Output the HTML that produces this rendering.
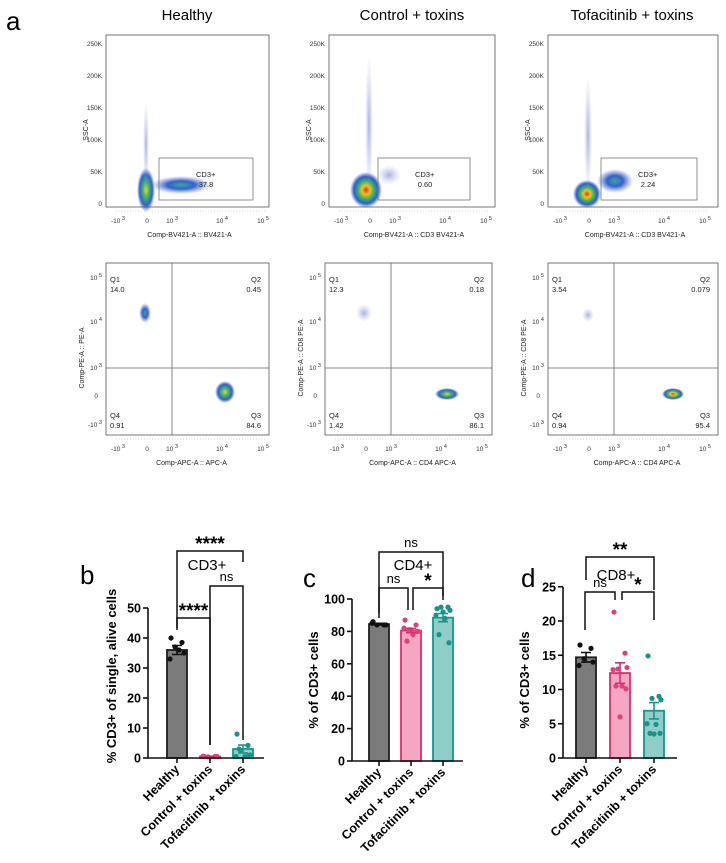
<!DOCTYPE html>
<html><head><meta charset="utf-8"><style>
body{margin:0;background:#fff;}
svg{display:block;font-family:"Liberation Sans",sans-serif;}
</style></head><body>
<svg id="fig" width="726" height="863" viewBox="0 0 726 863" xmlns="http://www.w3.org/2000/svg">
<defs>
<radialGradient id="hot" cx="50%" cy="50%" r="50%">
<stop offset="0" stop-color="#e8321e"/><stop offset="0.25" stop-color="#f2c21a"/><stop offset="0.5" stop-color="#37b36a"/><stop offset="0.75" stop-color="#2a5fd0"/><stop offset="1" stop-color="#3a55c8" stop-opacity="0"/>
</radialGradient>
<radialGradient id="warm" cx="50%" cy="50%" r="50%">
<stop offset="0" stop-color="#e7d23a"/><stop offset="0.35" stop-color="#3fb46e"/><stop offset="0.7" stop-color="#2f62cf"/><stop offset="1" stop-color="#3a55c8" stop-opacity="0"/>
</radialGradient>
<radialGradient id="cool" cx="50%" cy="50%" r="50%">
<stop offset="0" stop-color="#3aa6a0"/><stop offset="0.45" stop-color="#3461cc"/><stop offset="1" stop-color="#5f78d8" stop-opacity="0"/>
</radialGradient>
<radialGradient id="faint" cx="50%" cy="50%" r="50%">
<stop offset="0" stop-color="#6c7fd6" stop-opacity="0.6"/><stop offset="1" stop-color="#9aa7e0" stop-opacity="0"/>
</radialGradient>
</defs>
<text x="6" y="30" font-size="26">a</text>
<text x="187" y="20" font-size="15" text-anchor="middle">Healthy</text>
<text x="412" y="20" font-size="15" text-anchor="middle">Control + toxins</text>
<text x="632" y="20" font-size="15" text-anchor="middle">Tofacitinib + toxins</text>
<text x="80" y="584" font-size="26">b</text>
<text x="303" y="587" font-size="26">c</text>
<text x="521" y="587" font-size="26">d</text>
<g id="flows"></g>
<g id="bars"></g>
</svg>
<script>
// ---------- bar chart data ----------
const groups = ["Healthy", "Control + toxins", "Tofacitinib + toxins"];
const cd3Means = [36, 0.5, 3];
const cd3Sem = [1.5, 0.1, 1.3];
const cd3Healthy = [40, 38.5, 37, 35, 33, 36];
const cd3Control = [0.5, 0.5, 0.4, 0.5, 0.6];
const cd3Tofa = [8, 4.2, 2.5, 1, 0.5, 0.5, 3, 0.8];
const cd3Ticks = [0, 10, 20, 30, 40, 50];
const cd4Means = [84.5, 80.5, 88.5];
const cd4Sem = [0.5, 1.3, 2.5];
const cd4Healthy = [86, 84, 84, 84, 85];
const cd4Control = [87, 84, 81, 80, 82, 78, 74, 80, 81];
const cd4Tofa = [94, 95, 95, 93, 90, 88, 78, 73, 92];
const cd4Ticks = [0, 20, 40, 60, 80, 100];
const cd8Means = [14.7, 12.4, 6.9];
const cd8Sem = [0.7, 1.5, 1.2];
const cd8Healthy = [16.5, 16, 14.5, 14, 13.5];
const cd8Control = [21.3, 15.3, 13, 13.2, 12.9, 10.5, 10.5, 10.1, 6];
const cd8Tofa = [14.9, 9, 8.7, 8.5, 5, 4.9, 3.6, 3.6, 3.5];
const cd8Ticks = [0, 5, 10, 15, 20, 25];

const NS = "http://www.w3.org/2000/svg";
function mk(tag, attrs, parent, txt) {
  const e = document.createElementNS(NS, tag);
  for (const k in attrs) e.setAttribute(k, attrs[k]);
  if (txt !== undefined) e.textContent = txt;
  parent.appendChild(e);
  return e;
}
const fills = ["#7b7b7b", "#f5a6c1", "#8fcdc8"];
const strokes = ["#1e1e1e", "#d8306f", "#16968b"];
const dotCols = ["#111", "#e2407c", "#169488"];
const jit = [-6, 5, -2, 7, -7, 2, -4, 6, 0, -5];

function barChart(id, cfg, means, sems, pts, ticks) {
  const g = mk("g", {}, document.getElementById("bars"));
  
  
  const yS = v => cfg.y0 - v * cfg.ppu;
  const xS = i => cfg.c0 + i * cfg.step;
  means.forEach((m, i) => {
    const r = mk("rect", {x: xS(i) - 10, y: yS(m), width: 20, height: cfg.y0 - yS(m), fill: fills[i], stroke: strokes[i], "stroke-width": 1.8}, g);
    
    
  });
  pts.forEach((arr, i) => {
    arr.forEach((v, j) => {
      const c = mk("circle", {cx: xS(i) + jit[j % jit.length], cy: yS(v), r: 2.6, fill: dotCols[i]}, g);
      
      
    });
  });
  means.forEach((m, i) => {
    const s = sems[i], x = xS(i), col = i === 0 ? "#111" : strokes[i];
    const e = mk("path", {d: `M${x},${yS(m - s)}V${yS(m + s)}M${x - 5},${yS(m + s)}H${x + 5}M${x - 5},${yS(m - s)}H${x + 5}`, stroke: col, "stroke-width": 1.6, fill: "none"}, g);
    
    
  });
  const top = yS(ticks[ticks.length - 1]);
  const ax = mk("path", {d: `M${cfg.ax},${top}V${cfg.y0}H${cfg.axEnd}`, stroke: "#111", "stroke-width": 1.6, fill: "none"}, g);
  
  
  ticks.forEach(t => {
    mk("path", {d: `M${cfg.ax - 5},${yS(t)}H${cfg.ax}`, stroke: "#111", "stroke-width": 1.6}, g);
    const tl = mk("text", {x: cfg.ax - 7, y: yS(t) + 4.5, "font-size": 12.5, "font-weight": "bold", "text-anchor": "end"}, g, String(t));
    
    
  });
  groups.forEach((name, i) => {
    mk("path", {d: `M${xS(i)},${cfg.y0}V${cfg.y0 + 5}`, stroke: "#111", "stroke-width": 1.6}, g);
    const xl = mk("text", {x: xS(i) + 3, y: cfg.y0 + 12, "font-size": 12.5, "font-weight": "bold", "text-anchor": "end", transform: `rotate(-45 ${xS(i) + 3} ${cfg.y0 + 12})`}, g, name);
    
    
  });
  const yl = mk("text", {x: cfg.ylx, y: cfg.yly, "font-size": 13, "font-weight": "bold", "text-anchor": "middle", transform: `rotate(-90 ${cfg.ylx} ${cfg.yly})`}, g, cfg.ylabel);
  
  
  const tt = mk("text", {x: cfg.tx, y: cfg.ty, "font-size": 15, "text-anchor": "middle"}, g, cfg.title);
  
  
  cfg.br.forEach(b => {
    const p = mk("path", {d: `M${b.x1},${b.d1}V${b.y}H${b.x2}V${b.d2}`, stroke: "#111", "stroke-width": 1.5, fill: "none"}, g);
    
    
    const star = b.t.indexOf("*") >= 0;
    const l = mk("text", {x: (b.x1 + b.x2) / 2, y: b.y - (star ? 1 : 5), "font-size": star ? 19 : 13, "font-weight": star ? "bold" : "normal", "text-anchor": "middle"}, g, b.t);
    
    
  });
}

barChart("cd3", {y0: 758, ppu: 3, ax: 148, axEnd: 264, c0: 177, step: 33, ylx: 116, yly: 676, ylabel: "% CD3+ of single, alive cells", tx: 207, ty: 570, title: "CD3+",
  br: [{x1: 177, x2: 243, y: 551, d1: 628, d2: 562, t: "****"}, {x1: 210, x2: 243, y: 586, d1: 745, d2: 740, t: "ns"}, {x1: 177, x2: 210, y: 618, d1: 630, d2: 745, t: "****"}]},
  cd3Means, cd3Sem, [cd3Healthy, cd3Control, cd3Tofa], cd3Ticks);
barChart("cd4", {y0: 761, ppu: 1.62, ax: 352, axEnd: 463, c0: 379, step: 32, ylx: 318, yly: 680, ylabel: "% of CD3+ cells", tx: 413, ty: 570, title: "CD4+",
  br: [{x1: 379, x2: 443, y: 552, d1: 613, d2: 596, t: "ns"}, {x1: 379, x2: 408, y: 588, d1: 618, d2: 610, t: "ns"}, {x1: 413, x2: 443, y: 588, d1: 610, d2: 600, t: "*"}]},
  cd4Means, cd4Sem, [cd4Healthy, cd4Control, cd4Tofa], cd4Ticks);
barChart("cd8", {y0: 758, ppu: 6.85, ax: 563, axEnd: 677, c0: 586, step: 34, ylx: 529, yly: 680, ylabel: "% of CD3+ cells", tx: 616, ty: 580, title: "CD8+",
  br: [{x1: 586, x2: 654, y: 557, d1: 580, d2: 590, t: "**"}, {x1: 585, x2: 615, y: 592, d1: 630, d2: 600, t: "ns"}, {x1: 622, x2: 654, y: 592, d1: 600, d2: 620, t: "*"}]},
  cd8Means, cd8Sem, [cd8Healthy, cd8Control, cd8Tofa], cd8Ticks);

// ---------- flow cytometry plots ----------
const flowG = document.getElementById("flows");
function sup(parent, x, y, base, exp, anchor) {
  const t = mk("text", {x: x, y: y, "font-size": 6.5, "text-anchor": anchor || "middle", fill: "#333"}, parent);
  t.appendChild(document.createTextNode(base));
  mk("tspan", {dy: -3, "font-size": 5.5}, t, " " + exp);
  return t;
}
function xTicks(g, fx, fy) {
  [[12, "-10", "3"], [66, "10", "3"], [116, "10", "4"], [157, "10", "5"]].forEach(t => sup(g, fx + t[0], fy + 188, t[1], t[2]));
  mk("text", {x: fx + 41, y: fy + 188, "font-size": 6.5, "text-anchor": "middle", fill: "#333"}, g, "0");
  mk("path", {d: `M${fx + 10},${fy + 176}H${fx + 160}`, stroke: "#777", "stroke-width": 0.6, "stroke-dasharray": "0.6 2.2"}, g);
}
function blob(g, cx, cy, rx, ry, grad, name) {
  const e = mk("ellipse", {cx: cx, cy: cy, rx: rx, ry: ry, fill: `url(#${grad})`}, g);
  
  
}
function topPlot(fx, fw, xl, gate, val, clusters) {
  const fy = 35, fh = 172;
  const g = mk("g", {}, flowG);
  
  
  clusters.forEach(c => blob(g, fx + c[0], fy + c[1], c[2], c[3], c[4], 'cell-population'));
  const fr = mk("rect", {x: fx, y: fy, width: fw, height: fh, fill: "none", stroke: "#555", "stroke-width": 0.8}, g);
  
  
  ["250K", "200K", "150K", "100K", "50K", "0"].forEach((t, i) => {
    mk("text", {x: fx - 4, y: fy + 11 + i * 32, "font-size": 6.5, "text-anchor": "end", fill: "#333"}, g, t);
  });
  xTicks(g, fx, fy);
  const gr = mk("rect", {x: fx + gate[0], y: fy + 123, width: gate[1] - gate[0], height: 42, fill: "none", stroke: "#777", "stroke-width": 0.8}, g);
  
  
  mk("text", {x: fx + gate[0] + 37, y: fy + 142, "font-size": 7.5, fill: "#222"}, g, "CD3+");
  mk("text", {x: fx + gate[0] + 47, y: fy + 152, "font-size": 7.5, "text-anchor": "middle", fill: "#222"}, g, val);
  mk("text", {x: fx - 18, y: fy + 95, "font-size": 7, "text-anchor": "middle", transform: `rotate(-90 ${fx - 18} ${fy + 95})`, fill: "#222"}, g, "SSC-A");
  mk("text", {x: fx + fw / 2 + 2, y: fy + 202, "font-size": 7, "text-anchor": "middle", fill: "#222"}, g, xl);
}
function botPlot(fx, fw, yl, xl, q, clusters) {
  const fy = 263, fh = 172;
  const g = mk("g", {}, flowG);
  
  
  clusters.forEach(c => blob(g, fx + c[0], fy + c[1], c[2], c[3], c[4], 'cell-population'));
  const fr = mk("rect", {x: fx, y: fy, width: fw, height: fh, fill: "none", stroke: "#555", "stroke-width": 0.8}, g);
  
  
  const ql = mk("path", {d: `M${fx + 66},${fy}V${fy + fh}M${fx},${fy + 105}H${fx + fw}`, stroke: "#666", "stroke-width": 0.8}, g);
  
  
  [[15, "10", "5"], [59, "10", "4"], [105, "10", "3"], [162, "-10", "3"]].forEach(t => sup(g, fx - 4, fy + t[0] + 2, t[1], t[2], "end"));
  mk("text", {x: fx - 8, y: fy + 135, "font-size": 6.5, "text-anchor": "end", fill: "#333"}, g, "0");
  xTicks(g, fx, fy);
  const fs = 7.5;
  mk("text", {x: fx + 4, y: fy + 19, "font-size": fs, fill: "#222"}, g, "Q1");
  mk("text", {x: fx + 4, y: fy + 29, "font-size": fs, fill: "#222"}, g, q[0]);
  mk("text", {x: fw + fx - 8, y: fy + 19, "font-size": fs, "text-anchor": "end", fill: "#222"}, g, "Q2");
  mk("text", {x: fw + fx - 8, y: fy + 29, "font-size": fs, "text-anchor": "end", fill: "#222"}, g, q[1]);
  mk("text", {x: fx + 4, y: fy + 155, "font-size": fs, fill: "#222"}, g, "Q4");
  mk("text", {x: fx + 4, y: fy + 165, "font-size": fs, fill: "#222"}, g, q[3]);
  mk("text", {x: fw + fx - 8, y: fy + 155, "font-size": fs, "text-anchor": "end", fill: "#222"}, g, "Q3");
  mk("text", {x: fw + fx - 8, y: fy + 165, "font-size": fs, "text-anchor": "end", fill: "#222"}, g, q[2]);
  mk("text", {x: fx - 22, y: fy + 95, "font-size": 7, "text-anchor": "middle", transform: `rotate(-90 ${fx - 22} ${fy + 95})`, fill: "#222"}, g, yl);
  mk("text", {x: fx + fw / 2 + 4, y: fy + 202, "font-size": 7, "text-anchor": "middle", fill: "#222"}, g, xl);
}
topPlot(106, 163, "Comp-BV421-A :: BV421-A", [53, 147], "37.8",
  [[40, 155, 9, 22, "warm"], [75, 150, 30, 9, "cool"], [40, 110, 3, 45, "faint"]]);
topPlot(329, 166, "Comp-BV421-A :: CD3 BV421-A", [49, 141], "0.60",
  [[37, 155, 16, 18, "hot"], [40, 90, 4, 70, "faint"], [60, 140, 12, 10, "faint"]]);
topPlot(548, 170, "Comp-BV421-A :: CD3 BV421-A", [53, 149], "2.24",
  [[39, 159, 14, 14, "hot"], [67, 146, 18, 12, "cool"], [40, 100, 4, 60, "faint"]]);
botPlot(106, 163, "Comp-PE-A :: PE-A", "Comp-APC-A :: APC-A", ["14.0", "0.45", "84.6", "0.91"],
  [[119, 129, 10, 11, "warm"], [39, 50, 6, 10, "cool"]]);
botPlot(325, 167, "Comp-PE-A :: CD8 PE-A", "Comp-APC-A :: CD4 APC-A", ["12.3", "0.18", "86.1", "1.42"],
  [[122, 131, 12, 6, "warm"], [39, 50, 8, 9, "faint"]]);
botPlot(548, 170, "Comp-PE-A :: CD8 PE-A", "Comp-APC-A :: CD4 APC-A", ["3.54", "0.079", "95.4", "0.94"],
  [[125, 131, 11, 6, "hot"], [40, 52, 6, 7, "faint"]]);
</script>
</body></html>
